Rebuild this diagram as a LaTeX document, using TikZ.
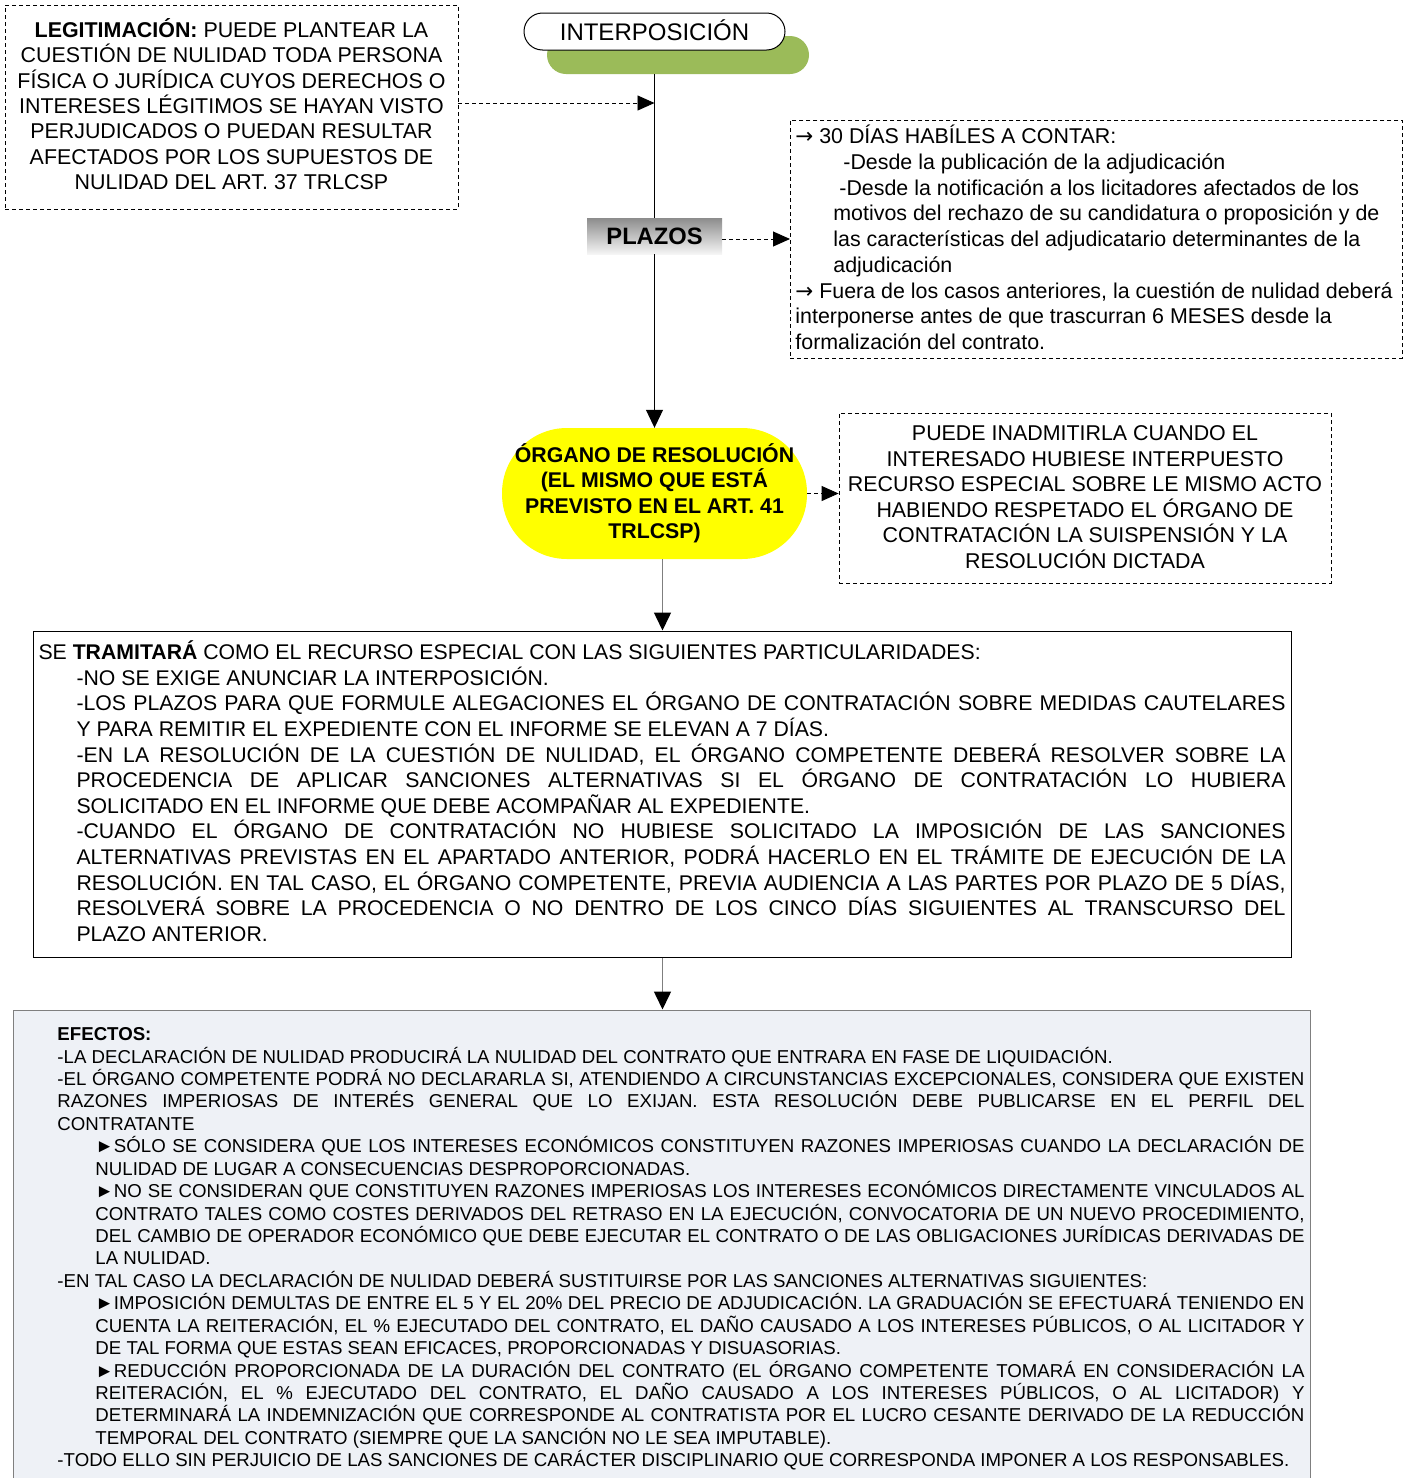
\documentclass[tikz,border=0pt]{standalone}
\usepackage{fontspec}
\setmainfont{Liberation Sans}
\newfontfamily\arrowfont{DejaVu Sans}
\usetikzlibrary{arrows.meta}
\definecolor{interpgreen}{HTML}{9BBB59}
\definecolor{organoyellow}{HTML}{FFFF00}
\definecolor{efectosbg}{HTML}{EEF1F6}
\definecolor{linegray}{HTML}{7F7F7F}
\newcommand{\jl}[3]{\hspace*{#1pt}\makebox[#2pt][s]{#3}}
\newcommand{\rl}[2]{\hspace*{#1pt}#2}
\newcommand{\arr}{{\arrowfont →}}
\tikzset{
  every node/.append style={execute at begin node={\spaceskip=0pt\xspaceskip=0pt\relax}},
  dashbox/.style={draw, dash pattern=on 4pt off 3pt, line width=0.8pt, inner ysep=0pt},
  dasharrow/.style={draw, dash pattern=on 4pt off 3pt, line width=0.9pt, -{Triangle[length=17pt,width=15pt]}},
  grayarrow/.style={draw=linegray, line width=1.5pt, -{Triangle[length=18pt,width=17pt,color=black]}},
  blackarrow/.style={draw, line width=1pt, -{Triangle[length=18pt,width=17pt]}},
}
\begin{document}
\begin{tikzpicture}[x=1pt,y=-1pt]
    \useasboundingbox (0,0) rectangle (1410,1478);
    \node[dashbox, anchor=base, inner xsep=4pt, text width=445pt, text height=32.5pt, text depth=171.5pt, align=flush center, font=\fontsize{21.4}{25.3}\selectfont] (legit) at (231.5,37.5) {\textbf{LEGITIMACIÓN:} PUEDE PLANTEAR LA\\ CUESTIÓN DE NULIDAD TODA PERSONA\\ FÍSICA O JURÍDICA CUYOS DERECHOS O\\ INTERESES LÉGITIMOS SE HAYAN VISTO\\ PERJUDICADOS O PUEDAN RESULTAR\\ AFECTADOS POR LOS SUPUESTOS DE\\ NULIDAD DEL ART. 37 TRLCSP};
    \node[fill=interpgreen, rounded corners=19pt, minimum width=262pt, minimum height=38pt] (interpback) at (678,55) {};
    \node[draw, fill=white, line width=1pt, rounded corners=18.5pt, minimum width=261pt, minimum height=37pt, inner sep=0pt, text height=17pt, text depth=0pt, font=\fontsize{24}{28}\selectfont] (interp) at (654.5,31.5) {INTERPOSICIÓN};
    \node[top color=black!45, bottom color=black!4, minimum width=135pt, minimum height=36pt, inner sep=0pt, text height=17pt, text depth=0pt, font=\bfseries\fontsize{23.7}{28}\selectfont] (plazos) at (654.5,236) {PLAZOS};
    \node[dashbox, anchor=base west, inner xsep=5pt, text width=602pt, text height=23.5pt, text depth=214.5pt, align=flush left, font=\fontsize{21.4}{25.75}\selectfont] (info) at (790,143.5) {\arr{} 30 DÍAS HABÍLES A CONTAR:\\ \rl{48}{-Desde la publicación de la adjudicación}\\ \rl{44}{-Desde la notificación a los licitadores afectados de los}\\ \rl{38}{motivos del rechazo de su candidatura o proposición y de}\\ \rl{38}{las características del adjudicatario determinantes de la}\\ \rl{38}{adjudicación}\\ \arr{} Fuera de los casos anteriores, la cuestión de nulidad deberá\\ interponerse antes de que trascurran 6 MESES desde la\\ formalización del contrato.};
    \node[fill=organoyellow, rounded corners=65pt, anchor=base, inner xsep=6pt, inner ysep=0pt, text width=293pt, text height=34.5pt, text depth=96.5pt, align=flush center, font=\bfseries\fontsize{21.3}{25.3}\selectfont] (organo) at (654.5,462.5) {ÓRGANO DE RESOLUCIÓN\\ (EL MISMO QUE ESTÁ\\ PREVISTO EN EL ART. 41\\ TRLCSP)};
    \node[dashbox, anchor=base, inner xsep=4pt, text width=484pt, text height=27.5pt, text depth=142.5pt, align=flush center, font=\fontsize{21.4}{25.6}\selectfont] (inadm) at (1085,440.5) {PUEDE INADMITIRLA CUANDO EL\\ INTERESADO HUBIESE INTERPUESTO\\ RECURSO ESPECIAL SOBRE LE MISMO ACTO\\ HABIENDO RESPETADO EL ÓRGANO DE\\ CONTRATACIÓN LA SUISPENSIÓN Y LA\\ RESOLUCIÓN DICTADA};
    \node[draw, line width=1pt, anchor=base west, inner xsep=5pt, inner ysep=0pt, text width=1248pt, text height=28.5pt, text depth=297.5pt, align=flush left, font=\fontsize{21.25}{25.64}\selectfont] (tram) at (33,659.5) {SE \textbf{TRAMITARÁ} COMO EL RECURSO ESPECIAL CON LAS SIGUIENTES PARTICULARIDADES:\\
    \rl{38}{-NO SE EXIGE ANUNCIAR LA INTERPOSICIÓN.}\\
    \jl{38}{1209}{-LOS PLAZOS PARA QUE FORMULE ALEGACIONES EL ÓRGANO DE CONTRATACIÓN SOBRE MEDIDAS CAUTELARES}\\
    \rl{38}{Y PARA REMITIR EL EXPEDIENTE CON EL INFORME SE ELEVAN A 7 DÍAS.}\\
    \jl{38}{1209}{-EN LA RESOLUCIÓN DE LA CUESTIÓN DE NULIDAD, EL ÓRGANO COMPETENTE DEBERÁ RESOLVER SOBRE LA}\\
    \jl{38}{1209}{PROCEDENCIA DE APLICAR SANCIONES ALTERNATIVAS SI EL ÓRGANO DE CONTRATACIÓN LO HUBIERA}\\
    \rl{38}{SOLICITADO EN EL INFORME QUE DEBE ACOMPAÑAR AL EXPEDIENTE.}\\
    \jl{38}{1209}{-CUANDO EL ÓRGANO DE CONTRATACIÓN NO HUBIESE SOLICITADO LA IMPOSICIÓN DE LAS SANCIONES}\\
    \jl{38}{1209}{ALTERNATIVAS PREVISTAS EN EL APARTADO ANTERIOR, PODRÁ HACERLO EN EL TRÁMITE DE EJECUCIÓN DE LA}\\
    \jl{38}{1209}{RESOLUCIÓN. EN TAL CASO, EL ÓRGANO COMPETENTE, PREVIA AUDIENCIA A LAS PARTES POR PLAZO DE 5 DÍAS,}\\
    \jl{38}{1209}{RESOLVERÁ SOBRE LA PROCEDENCIA O NO DENTRO DE LOS CINCO DÍAS SIGUIENTES AL TRANSCURSO DEL}\\
    \rl{38}{PLAZO ANTERIOR.}};
    \node[draw=linegray, fill=efectosbg, line width=1pt, anchor=base west, inner xsep=6pt, inner ysep=0pt, text width=1285pt, text height=30.7pt, text depth=459.3pt, align=flush left, font=\fontsize{18.65}{22.42}\selectfont] (efectos) at (13,1040.7) {\rl{38}{\textbf{EFECTOS:}}\\
    \rl{38}{-LA DECLARACIÓN DE NULIDAD PRODUCIRÁ LA NULIDAD DEL CONTRATO QUE ENTRARA EN FASE DE LIQUIDACIÓN.}\\
    \jl{38}{1247}{-EL ÓRGANO COMPETENTE PODRÁ NO DECLARARLA SI, ATENDIENDO A CIRCUNSTANCIAS EXCEPCIONALES, CONSIDERA QUE EXISTEN}\\
    \jl{38}{1247}{RAZONES IMPERIOSAS DE INTERÉS GENERAL QUE LO EXIJAN. ESTA RESOLUCIÓN DEBE PUBLICARSE EN EL PERFIL DEL}\\
    \rl{38}{CONTRATANTE}\\
    \jl{76}{1209}{►SÓLO SE CONSIDERA QUE LOS INTERESES ECONÓMICOS CONSTITUYEN RAZONES IMPERIOSAS CUANDO LA DECLARACIÓN DE}\\
    \rl{76}{NULIDAD DE LUGAR A CONSECUENCIAS DESPROPORCIONADAS.}\\
    \jl{76}{1209}{►NO SE CONSIDERAN QUE CONSTITUYEN RAZONES IMPERIOSAS LOS INTERESES ECONÓMICOS DIRECTAMENTE VINCULADOS AL}\\
    \jl{76}{1209}{CONTRATO TALES COMO COSTES DERIVADOS DEL RETRASO EN LA EJECUCIÓN, CONVOCATORIA DE UN NUEVO PROCEDIMIENTO,}\\
    \jl{76}{1209}{DEL CAMBIO DE OPERADOR ECONÓMICO QUE DEBE EJECUTAR EL CONTRATO O DE LAS OBLIGACIONES JURÍDICAS DERIVADAS DE}\\
    \rl{76}{LA NULIDAD.}\\
    \rl{38}{-EN TAL CASO LA DECLARACIÓN DE NULIDAD DEBERÁ SUSTITUIRSE POR LAS SANCIONES ALTERNATIVAS SIGUIENTES:}\\
    \jl{76}{1209}{►IMPOSICIÓN DEMULTAS DE ENTRE EL 5 Y EL 20\% DEL PRECIO DE ADJUDICACIÓN. LA GRADUACIÓN SE EFECTUARÁ TENIENDO EN}\\
    \jl{76}{1209}{CUENTA LA REITERACIÓN, EL \% EJECUTADO DEL CONTRATO, EL DAÑO CAUSADO A LOS INTERESES PÚBLICOS, O AL LICITADOR Y}\\
    \rl{76}{DE TAL FORMA QUE ESTAS SEAN EFICACES, PROPORCIONADAS Y DISUASORIAS.}\\
    \jl{76}{1209}{►REDUCCIÓN PROPORCIONADA DE LA DURACIÓN DEL CONTRATO (EL ÓRGANO COMPETENTE TOMARÁ EN CONSIDERACIÓN LA}\\
    \jl{76}{1209}{REITERACIÓN, EL \% EJECUTADO DEL CONTRATO, EL DAÑO CAUSADO A LOS INTERESES PÚBLICOS, O AL LICITADOR) Y}\\
    \jl{76}{1209}{DETERMINARÁ LA INDEMNIZACIÓN QUE CORRESPONDE AL CONTRATISTA POR EL LUCRO CESANTE DERIVADO DE LA REDUCCIÓN}\\
    \rl{76}{TEMPORAL DEL CONTRATO (SIEMPRE QUE LA SANCIÓN NO LE SEA IMPUTABLE).}\\
    \rl{38}{-TODO ELLO SIN PERJUICIO DE LAS SANCIONES DE CARÁCTER DISCIPLINARIO QUE CORRESPONDA IMPONER A LOS RESPONSABLES.}};
    \draw[line width=1pt] (interp.south |- interpback.south) -- (plazos.north);
    \draw[blackarrow] (plazos.south) -- (organo.north);
    \draw[dasharrow] ([yshift=4pt]legit.east) -- ([yshift=4pt]legit.east -| interp.south);
    \draw[dasharrow] ([yshift=-3pt]plazos.east) -- ([yshift=-3pt]plazos.east -| info.west);
    \draw[dasharrow] (organo.east) -- (organo.east -| inadm.west);
    \draw[grayarrow] (organo.south -| tram.north) -- (tram.north);
    \draw[grayarrow] (tram.south) -- (tram.south |- efectos.north);
\end{tikzpicture}
\end{document}
